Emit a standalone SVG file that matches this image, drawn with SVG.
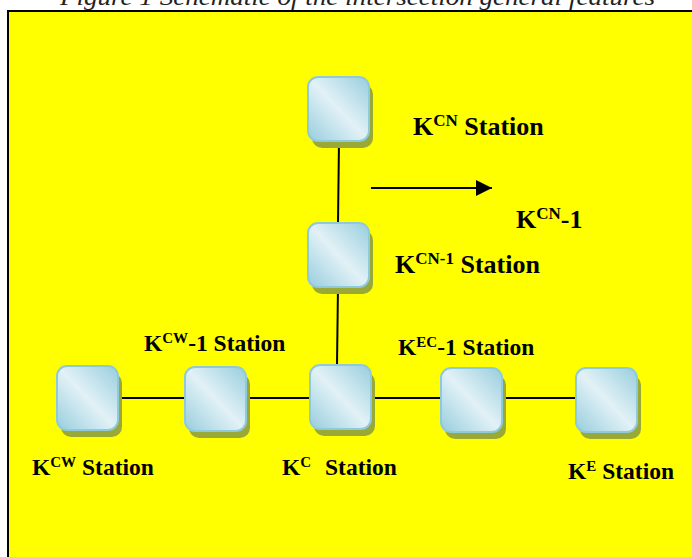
<svg xmlns="http://www.w3.org/2000/svg" width="692" height="557" viewBox="0 0 692 557">
  <defs>
    <linearGradient id="nodeGrad" x1="1" y1="0" x2="0" y2="1">
      <stop offset="0" stop-color="#97cddc"/>
      <stop offset="0.3" stop-color="#c4e3ed"/>
      <stop offset="0.5" stop-color="#e2f1f6"/>
      <stop offset="0.7" stop-color="#c4e3ed"/>
      <stop offset="1" stop-color="#97cddc"/>
    </linearGradient>
    <marker id="arrow" viewBox="0 0 16 16" refX="16" refY="8" markerWidth="16" markerHeight="16" markerUnits="userSpaceOnUse" orient="auto">
      <path d="M0,0 L16,8 L0,16 Z" fill="#000"/>
    </marker>
    <style>
      .shadow { fill: #9aa935; }
      .box { fill: url(#nodeGrad); stroke: #8fcadb; stroke-width: 2; }
      .conn { stroke: #000; stroke-width: 2; fill: none; }
      .lbl { font-family: "Liberation Serif", "Times New Roman", serif; font-weight: bold; fill: #000; }
      .big { font-size: 26px; }
      .mid { font-size: 23.5px; }
      .cap { font-family: "Liberation Serif", "Times New Roman", serif; font-style: italic; font-size: 24px; fill: #222; }
    </style>
  </defs>

  <text class="cap" x="60" y="5" textLength="595" lengthAdjust="spacingAndGlyphs">Figure 1 Schematic of the intersection general features</text>

  <rect x="8" y="11" width="700" height="560" fill="#ffff00" stroke="#000" stroke-width="2"/>

  <g id="connectors">
    <line class="conn" x1="339" y1="141" x2="338" y2="223"/>
    <line class="conn" x1="338" y1="286" x2="337" y2="365"/>
    <line class="conn" x1="118" y1="398" x2="185" y2="398"/>
    <line class="conn" x1="247" y1="398" x2="310" y2="398"/>
    <line class="conn" x1="371" y1="398" x2="441" y2="398"/>
    <line class="conn" x1="502" y1="398" x2="576" y2="398"/>
    <line class="conn" x1="371" y1="188" x2="492" y2="188" marker-end="url(#arrow)"/>
  </g>

  <g id="node-kcn">
    <rect class="shadow" x="312" y="84" width="61" height="64" rx="10"/>
    <rect class="box" x="308" y="77" width="61" height="64" rx="10"/>
  </g>
  <g id="node-kcn1">
    <rect class="shadow" x="312" y="230" width="61" height="64" rx="10"/>
    <rect class="box" x="308" y="223" width="61" height="64" rx="10"/>
  </g>
  <g id="node-kc">
    <rect class="shadow" x="314" y="372" width="61" height="64" rx="10"/>
    <rect class="box" x="310" y="365" width="61" height="64" rx="10"/>
  </g>
  <g id="node-kcw">
    <rect class="shadow" x="61" y="373" width="61" height="64" rx="10"/>
    <rect class="box" x="57" y="366" width="61" height="64" rx="10"/>
  </g>
  <g id="node-kcw1">
    <rect class="shadow" x="189" y="374" width="61" height="64" rx="10"/>
    <rect class="box" x="185" y="367" width="61" height="64" rx="10"/>
  </g>
  <g id="node-kec1">
    <rect class="shadow" x="445" y="375" width="61" height="64" rx="10"/>
    <rect class="box" x="441" y="368" width="61" height="64" rx="10"/>
  </g>
  <g id="node-ke">
    <rect class="shadow" x="580" y="375" width="61" height="64" rx="10"/>
    <rect class="box" x="576" y="368" width="61" height="64" rx="10"/>
  </g>

  <g id="labels">
    <text class="lbl big" x="413" y="135">K<tspan font-size="17" dy="-9">CN</tspan><tspan dy="9"> Station</tspan></text>
    <text class="lbl big" x="516" y="228">K<tspan font-size="17" dy="-9">CN</tspan><tspan dy="9">-1</tspan></text>
    <text class="lbl big" x="395" y="273">K<tspan font-size="17" dy="-9">CN-1</tspan><tspan dy="9"> Station</tspan></text>
    <text class="lbl mid" x="144" y="351">K<tspan font-size="15" dy="-8">CW</tspan><tspan dy="8">-1 Station</tspan></text>
    <text class="lbl mid" x="32" y="475">K<tspan font-size="15" dy="-8">CW</tspan><tspan dy="8"> Station</tspan></text>
    <text class="lbl mid" x="282" y="475">K<tspan font-size="15" dy="-8">C</tspan><tspan x="325" dy="8">Station</tspan></text>
    <text class="lbl mid" x="398" y="355">K<tspan font-size="15" dy="-8">EC</tspan><tspan dy="8">-1 Station</tspan></text>
    <text class="lbl mid" x="568" y="479">K<tspan font-size="15" dy="-8">E</tspan><tspan dy="8"> Station</tspan></text>
  </g>
</svg>
